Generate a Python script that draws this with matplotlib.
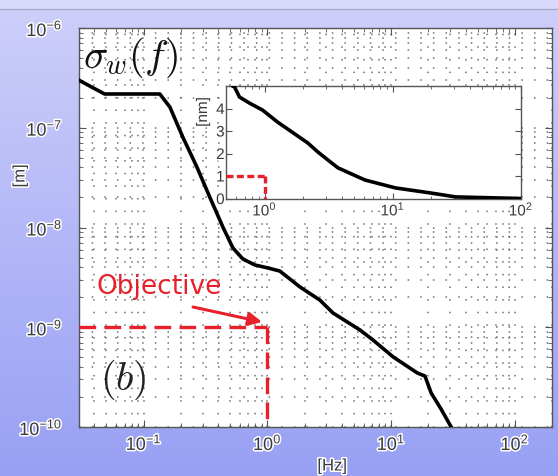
import numpy as np
import matplotlib
matplotlib.use("Agg")
import matplotlib.pyplot as plt
import matplotlib.patheffects as pe

# ---------------- data ----------------
freq_main = [0.0298, 0.0379, 0.0483, 0.135, 0.163, 0.207, 0.269, 0.342, 0.437,
             0.526, 0.634, 0.793, 1.01, 1.26, 1.83, 2.66, 3.39, 5.61, 7.14,
             10.4, 16.3, 18.8, 21.1, 25.4, 30.6]
sigma_main = [3.01e-7, 2.56e-7, 2.18e-7, 2.18e-7, 1.61e-7, 8.07e-8, 4.05e-8,
              2.02e-8, 1.01e-8, 6.24e-9, 4.83e-9, 4.21e-9, 3.93e-9, 3.66e-9,
              2.54e-9, 1.87e-9, 1.39e-9, 9.38e-10, 7.45e-10, 5.04e-10,
              3.48e-10, 3.24e-10, 2.19e-10, 1.51e-10, 1.0e-10]

freq_inset = [0.55, 0.561, 0.582, 0.637, 0.762, 0.964, 1.26, 2.17, 2.60, 3.12,
              3.74, 6.08, 10.5, 20.0, 30.9, 100.0]
sigma_inset_nm = [5.3, 5.0, 4.96, 4.51, 4.24, 3.93, 3.40, 2.47, 2.07, 1.71,
                  1.36, 0.82, 0.47, 0.24, 0.07, 0.0]

objective_f = 1.0
objective_m = 1e-9
objective_nm = 1.0

main_xticks = [0.1, 1, 10, 100]
main_yticks = [1e-10, 1e-9, 1e-8, 1e-7, 1e-6]
inset_xticks = [1, 10, 100]
inset_yticks = [0, 1, 2, 3, 4]

# ---------------- style ----------------
plt.rcParams['mathtext.fontset'] = 'custom'
plt.rcParams['mathtext.rm'] = 'Liberation Sans'
plt.rcParams['mathtext.it'] = 'Liberation Sans:italic'
plt.rcParams['font.family'] = ['Liberation Sans', 'DejaVu Sans']
plt.rcParams['lines.scale_dashes'] = False

W, H = 558, 476
fig = plt.figure(figsize=(W / 100, H / 100), dpi=100)

# background gradient
bg = fig.add_axes([0, 0, 1, 1], zorder=-10)
top = np.array([206, 207, 250]) / 255
bot = np.array([152, 160, 244]) / 255
t = np.linspace(0, 1, 200)[:, None]
grad = top[None, :] * (1 - t) + bot[None, :] * t
grad = np.repeat(grad[:, None, :], 2, axis=1)
bg.imshow(grad, aspect='auto', extent=[0, 1, 0, 1], origin='upper')
bg.axhspan(1 - 8 / H, 1, color=(216 / 255, 216 / 255, 250 / 255))
bg.axhline(1 - 8.5 / H, color=(165 / 255, 165 / 255, 200 / 255), lw=0.8)
bg.set_xlim(0, 1)
bg.set_ylim(0, 1)
bg.axis('off')

halo = [pe.withStroke(linewidth=2.2, foreground='white')]
lab_color = '#3a3a3a'

# main axes
ax = fig.add_axes([79 / W, 1 - 427 / H, 473 / W, 399 / H])
ax.set_facecolor('white')
ax.set_xscale('log')
ax.set_yscale('log')
ax.set_xlim(0.03, 200)
ax.set_ylim(1e-10, 1e-6)
ax.set_xticks(main_xticks)
ax.set_yticks(main_yticks)
ax.grid(True, which='both', color='#707070', linestyle=(0, (1.1, 8)), lw=1.1)
ax.tick_params(which='both', direction='in', top=True, right=True,
               colors='#555555', labelcolor=lab_color, labelsize=13)
ax.tick_params(which='major', length=5)
ax.tick_params(which='minor', length=3)
ax.tick_params(axis='y', pad=12)
ax.tick_params(axis='x', pad=5)
for lbl in ax.get_xticklabels() + ax.get_yticklabels():
    lbl.set_path_effects(halo)
for s in ax.spines.values():
    s.set_color('#555555')
    s.set_linewidth(1.0)

ax.plot(freq_main, sigma_main, color='black', lw=2.6, solid_joinstyle='round', zorder=5)
ax.plot([0.03, objective_f], [objective_m, objective_m], color='#e8202a',
        lw=2.4, dashes=(12, 6), zorder=6)
ax.plot([objective_f, objective_f], [objective_m, 1e-10], color='#e8202a',
        lw=2.4, dashes=(12, 6), zorder=6)

ax.text(83 / W, 1 - 36 / H, r'$\sigma_w(f)$', transform=fig.transFigure,
        fontsize=29, math_fontfamily='cm', va='top', ha='left', color='#111111')
ax.text(100 / W, 1 - 358 / H, r'$(b)$', transform=fig.transFigure,
        fontsize=29, math_fontfamily='cm', va='top', ha='left', color='#222222')
ax.text(96 / W, 1 - 287 / H, 'Objective', transform=fig.transFigure,
        fontsize=19, color='#e8202a', va='center', ha='left', family='DejaVu Sans')
ax.annotate('', xy=(262 / W, 1 - 322 / H), xytext=(193 / W, 1 - 307 / H),
            xycoords='figure fraction', textcoords='figure fraction',
            arrowprops=dict(arrowstyle='-|>,head_length=0.8,head_width=0.4',
                            color='#e8202a', lw=2.2, shrinkA=0, shrinkB=0))

fig.text(20 / W, 1 - 176 / H, '[m]', rotation=90, fontsize=12, color=lab_color,
         ha='center', va='center', path_effects=halo)
fig.text(332 / W, 1 - 466 / H, '[Hz]', fontsize=12, color=lab_color,
         ha='center', va='center', path_effects=halo)

# inset
ins = fig.add_axes([226 / W, 1 - 198.5 / H, 295 / W, 112.5 / H], zorder=10)
ins.set_facecolor('white')
ins.set_xscale('log')
ins.set_xlim(0.5, 100)
ins.set_ylim(0, 5)
ins.set_xticks(inset_xticks)
ins.set_yticks(inset_yticks)
ins.tick_params(which='both', direction='in', top=True, right=True,
                colors='#555555', labelcolor=lab_color, labelsize=11)
ins.tick_params(which='major', length=4)
ins.tick_params(which='minor', length=2)
ins.tick_params(axis='y', pad=1)
ins.tick_params(axis='x', pad=1)
for lbl in ins.get_xticklabels() + ins.get_yticklabels():
    lbl.set_path_effects(halo)
for s in ins.spines.values():
    s.set_color('#555555')
    s.set_linewidth(1.0)
ins.plot(freq_inset, sigma_inset_nm, color='black', lw=2.6, solid_joinstyle='round', zorder=5)
ins.plot([0.5, objective_f], [objective_nm, objective_nm], color='#e8202a',
         lw=2.4, dashes=(5, 2.5), zorder=6)
ins.plot([objective_f, objective_f], [objective_nm, 0], color='#e8202a',
         lw=2.4, dashes=(5, 2.5), zorder=6)
fig.text(203 / W, 1 - 112 / H, '[nm]', rotation=90, fontsize=11, color=lab_color,
         ha='center', va='center', path_effects=halo)

fig.savefig('out.png', dpi=100)
